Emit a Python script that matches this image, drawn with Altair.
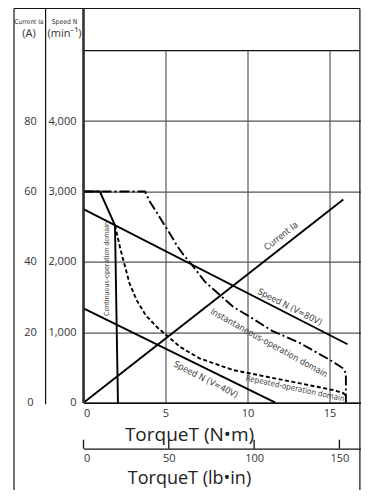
import altair as alt
import pandas as pd

# ---------------- data ----------------
speed80_torque = [0.0, 16.1]
speed80_rpm = [2750, 830]

speed40_torque = [0.0, 11.7]
speed40_rpm = [1340, 0]

current_torque = [0.0, 15.84]
current_amp = [0.0, 57.7]

inst_torque = [0.0, 3.75, 4.05, 4.5, 4.87, 5.3, 5.7, 6.1, 6.6, 7.4, 8.32, 9.12, 10.15, 11.5, 13.2, 15.21, 15.8, 16.0, 16.0]
inst_rpm = [3000, 3000, 2855, 2690, 2548, 2390, 2230, 2100, 1960, 1720, 1528, 1362, 1220, 1020, 847, 582, 492, 421, 0]

rep_torque = [1.92, 2.22, 2.43, 2.8, 3.24, 3.8, 4.46, 5.88, 7.07, 9.12, 11.17, 13.2, 15.21, 15.84, 15.98]
rep_rpm = [2520, 2213, 2024, 1700, 1457, 1240, 1078, 794, 630, 464, 369, 275, 180, 137, 100]

cont_torque = [0.0, 1.0, 1.92, 2.1]
cont_rpm = [3000, 3000, 2520, 0]

speed_ticks = [0, 1000, 2000, 3000, 4000]
current_ticks = [0, 20, 40, 60, 80]
torque_ticks = [0, 5, 10, 15]
lb_ticks = [0, 50, 100, 150]

label_texts = ["Current Ia", "Speed N (V=80V)", "Instantaneous-operation domain",
               "Repeated-operation domain", "Speed N (V=40V)", "Continuous-operation domain"]
label_torque = [12.04, 12.59, 11.31, 12.9, 7.47, 1.45]
label_rpm = [2368, 1360, 850, 195, 330, 1899]
label_angle = [322, 27, 29, 12, 27, 270]
label_size = [9, 9, 9, 8, 9, 7]

# ---------------- layout constants ----------------
W, H = 277, 352            # plot area (px)
XMAX = W / 16.4            # torque at right edge
YMAX = 5000                # rpm at header separator
LBMAX = W / 85.3 * 50
NARROW = "Liberation Sans Narrow, DejaVu Sans Condensed, sans-serif"
FONT = "Open Sans"


def df(t, v):
    return pd.DataFrame({"t": t, "v": v, "i": list(range(len(t)))})


xs = alt.Scale(domain=[0, XMAX], nice=False, zero=False)
ys = alt.Scale(domain=[0, YMAX], nice=False, zero=False)

x_axis = alt.Axis(values=torque_ticks, title="TorqueT (N•m)", grid=True, gridColor="#666",
                  gridWidth=1.3, ticks=False, tickSize=0, domain=True, domainColor="#111",
                  domainWidth=1.6, labelFontSize=11, labelColor="#333", labelFont=FONT,
                  labelPadding=5, titleFont=FONT, titleFontSize=19, titleFontWeight="normal",
                  titleColor="#222", titleX=105.5, titleY=38, titleBaseline="alphabetic",
                  titleAnchor="middle")
y_axis = alt.Axis(values=speed_ticks, labelExpr="format(datum.value, ',.0f')", title=None,
                  grid=True, gridColor="#555", gridWidth=1.3, ticks=False, tickSize=0,
                  domain=False, labelFontSize=11, labelColor="#333", labelFont=FONT,
                  labelPadding=7.5)

X = alt.X("t:Q", scale=xs, axis=x_axis)
Y = alt.Y("v:Q", scale=ys, axis=y_axis)


def line(t, v, dash=None):
    props = dict(color="black", strokeWidth=1.9)
    if dash:
        props["strokeDash"] = dash
    return alt.Chart(df(t, v)).mark_line(**props).encode(x=X, y=Y, order="i:Q")


layers = [
    line(speed80_torque, speed80_rpm),
    line(speed40_torque, speed40_rpm),
    line(cont_torque, cont_rpm),
    line(inst_torque, inst_rpm, [10, 3, 2, 3]),
    line(rep_torque, rep_rpm, [4, 2.5]),
]
for txt, t, v, a, s in zip(label_texts, label_torque, label_rpm, label_angle, label_size):
    layers.append(
        alt.Chart(pd.DataFrame({"t": [t], "v": [v], "txt": [txt]}))
        .mark_text(angle=a, font=NARROW, fontSize=s, color="#444", align="center", baseline="middle")
        .encode(x=X, y=Y, text="txt:N")
    )
main = alt.layer(*layers)

cur = alt.Chart(pd.DataFrame({"t": current_torque, "a": current_amp})).mark_line(
    color="black", strokeWidth=1.9
).encode(
    x=alt.X("t:Q", scale=xs, axis=None),
    y=alt.Y("a:Q", scale=alt.Scale(domain=[0, 100], nice=False, zero=False),
            axis=alt.Axis(values=current_ticks, orient="left", offset=38, title=None, grid=False,
                          ticks=False, tickSize=0, domain=False, labelFontSize=11,
                          labelColor="#333", labelFont=FONT, labelAlign="center",
                          labelPadding=15.5)),
)

LB_OFF = 46
lb = alt.Chart(pd.DataFrame({"lb": lb_ticks})).mark_rule(color="#111", strokeWidth=1.3).encode(
    x=alt.X("lb:Q", scale=alt.Scale(domain=[0, LBMAX], nice=False, zero=False),
            axis=alt.Axis(values=lb_ticks, orient="bottom", offset=LB_OFF, title="TorqueT (lb•in)",
                          grid=False, ticks=False, tickSize=0, domain=True, domainColor="#111",
                          domainWidth=1.3, labelFontSize=11, labelColor="#333", labelFont=FONT,
                          labelPadding=4, titleFont=FONT, titleFontSize=18,
                          titleFontWeight="normal", titleColor="#222", titleX=105.5, titleY=35,
                          titleBaseline="alphabetic", titleAnchor="middle")),
    y=alt.value(H + LB_OFF - 9),
    y2=alt.value(H + LB_OFF),
)

one = alt.Data(values=[{}])


def vrule(x, y1, y2, w=1.2, c="#111"):
    return alt.Chart(one).mark_rule(color=c, strokeWidth=w).encode(
        x=alt.value(x), y=alt.value(y1), y2=alt.value(y2))


def hrule(y, x1, x2, w=1.2, c="#111"):
    return alt.Chart(one).mark_rule(color=c, strokeWidth=w).encode(
        y=alt.value(y), x=alt.value(x1), x2=alt.value(x2))


def label(txt, x, y, size, font):
    return alt.Chart(one).mark_text(font=font, fontSize=size, color="#333", align="center",
                                    baseline="middle").encode(
        x=alt.value(x), y=alt.value(y), text=alt.value(txt))


TOP = -42.2
BOT = 442
frame = [
    vrule(-69.5, TOP, BOT),
    vrule(W - 0.6, TOP, BOT),
    hrule(TOP, -69.5, W - 0.6),
    vrule(-37.9, TOP, H + 1.5),
    vrule(0, TOP, H, w=2.6, c="#333"),
    hrule(0, 0, W - 0.6),
    label("Current Ia", -54.5, -29.0, 6.5, NARROW),
    label("(A)", -54.5, -17.2, 11, FONT),
    label("Speed N", -19, -29.0, 6.8, NARROW),
    label("(min⁻¹)", -19, -17.2, 11, FONT),
]

chart = alt.layer(main, cur, lb, *frame).resolve_scale(
    x="independent", y="independent"
).properties(
    width=W, height=H, autosize="none",
    padding={"left": 75.5, "top": 42.7, "right": 0.5, "bottom": 87.3},
).configure_view(stroke=None)

chart.save("out.html", embed_options={"renderer": "svg", "actions": False})
